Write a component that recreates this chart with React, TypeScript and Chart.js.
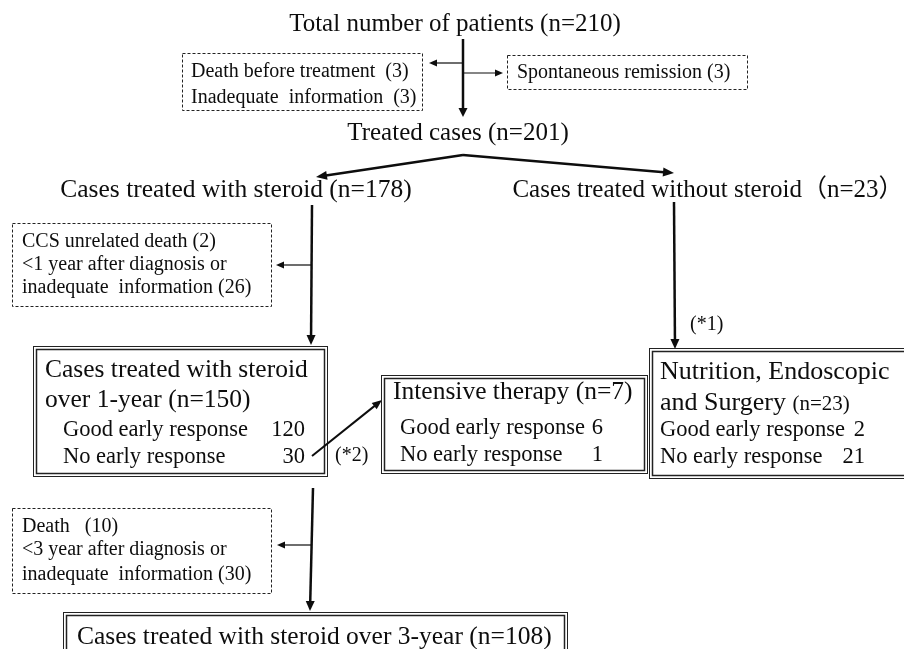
import React, { useEffect, useRef } from "react";
import { Chart, registerables } from "chart.js";

Chart.register(...registerables);

// ---------------- DATA ----------------
const totalPatients = 210;
const preTreatmentLabels = ["Death before treatment", "Inadequate  information"];
const preTreatmentCounts = [3, 3];
const spontaneousRemissionCount = 3;
const treatedCases = 201;
const steroidCases = 178;
const nonSteroidCases = 23;
const oneYearExclusionLabels = ["CCS unrelated death", "<1 year after diagnosis or", "inadequate  information"];
const oneYearExclusionCounts = [2, 26];
const steroidOneYear = 150;
const responseLabels = ["Good early response", "No early response"];
const steroidOneYearResponse = [120, 30];
const intensiveTherapy = 7;
const intensiveResponse = [6, 1];
const nutritionSurgery = 23;
const nutritionResponse = [2, 21];
const threeYearExclusionLabels = ["Death", "<3 year after diagnosis or", "inadequate  information"];
const threeYearExclusionCounts = [10, 30];
const steroidThreeYear = 108;

// ---------------- LAYOUT / STYLE ----------------
const W = 904;
const H = 649;
const SERIF = '"Liberation Serif", "Times New Roman", "Noto Sans CJK JP", serif';
const INK = "#0d0d0d";

const flowPlugin = {
  id: "flowchart",
  afterDraw(chart: any) {
    const ctx: CanvasRenderingContext2D = chart.ctx;
    const sx = chart.scales.x;
    const sy = chart.scales.y;
    const X = (v: number) => sx.getPixelForValue(v);
    const Y = (v: number) => sy.getPixelForValue(v);

    const text = (s: string, x: number, y: number, size: number, align: CanvasTextAlign = "left") => {
      ctx.save();
      ctx.font = `${size}px ${SERIF}`;
      ctx.fillStyle = INK;
      ctx.textAlign = align;
      ctx.textBaseline = "middle";
      ctx.fillText(s, X(x), Y(y));
      ctx.restore();
    };
    const runs = (parts: [string, number][], x: number, y: number) => {
      let cx = X(x);
      ctx.save();
      ctx.fillStyle = INK;
      ctx.textBaseline = "alphabetic";
      const base = Y(y) + parts[0][1] * 0.33;
      for (const [s, size] of parts) {
        ctx.font = `${size}px ${SERIF}`;
        ctx.fillText(s, cx, base);
        cx += ctx.measureText(s).width;
      }
      ctx.restore();
    };
    const line = (pts: number[][], width: number) => {
      ctx.save();
      ctx.strokeStyle = INK;
      ctx.lineWidth = width;
      ctx.lineCap = "butt";
      ctx.lineJoin = "miter";
      ctx.beginPath();
      pts.forEach((p, i) => (i ? ctx.lineTo(X(p[0]), Y(p[1])) : ctx.moveTo(X(p[0]), Y(p[1]))));
      ctx.stroke();
      ctx.restore();
    };
    const head = (from: number[], to: number[], len: number, half: number) => {
      const x1 = X(from[0]), y1 = Y(from[1]), x2 = X(to[0]), y2 = Y(to[1]);
      const a = Math.atan2(y2 - y1, x2 - x1);
      ctx.save();
      ctx.fillStyle = INK;
      ctx.beginPath();
      ctx.moveTo(x2, y2);
      ctx.lineTo(x2 - len * Math.cos(a) + half * Math.sin(a), y2 - len * Math.sin(a) - half * Math.cos(a));
      ctx.lineTo(x2 - len * Math.cos(a) - half * Math.sin(a), y2 - len * Math.sin(a) + half * Math.cos(a));
      ctx.closePath();
      ctx.fill();
      ctx.restore();
    };
    const arrow = (pts: number[][], width: number, len = 9, half = 4) => {
      const n = pts.length;
      const a = pts[n - 2], b = pts[n - 1];
      const d = Math.hypot(b[0] - a[0], b[1] - a[1]);
      const trimmed = pts.slice(0, n - 1).concat([[b[0] - ((b[0] - a[0]) * (len - 1)) / d, b[1] - ((b[1] - a[1]) * (len - 1)) / d]]);
      line(trimmed, width);
      head(a, b, len, half);
    };
    const dashedBox = (x1: number, y1: number, x2: number, y2: number) => {
      ctx.save();
      ctx.strokeStyle = "#222";
      ctx.lineWidth = 1;
      ctx.setLineDash([3, 2]);
      ctx.strokeRect(Math.round(X(x1)) + 0.5, Math.round(Y(y1)) + 0.5, X(x2) - X(x1), Y(y2) - Y(y1));
      ctx.restore();
    };
    const doubleBox = (x1: number, y1: number, x2: number, y2: number) => {
      ctx.save();
      ctx.strokeStyle = "#222";
      ctx.lineWidth = 1;
      ctx.strokeRect(Math.round(X(x1)) + 0.5, Math.round(Y(y1)) + 0.5, X(x2) - X(x1), Y(y2) - Y(y1));
      ctx.lineWidth = 1.5;
      ctx.strokeRect(X(x1) + 3.5, Y(y1) + 3.5, X(x2) - X(x1) - 6, Y(y2) - Y(y1) - 6);
      ctx.restore();
    };

    // Title & first split
    text(`Total number of patients (n=${totalPatients})`, 455, 24, 25, "center");
    arrow([[463, 39], [463, 117]], 2.5, 9, 4.5);
    arrow([[463, 63], [429, 63]], 1.2, 8, 3.5);
    arrow([[463, 73], [503, 73]], 1.2, 8, 3.5);
    dashedBox(182, 53, 422, 110);
    preTreatmentLabels.forEach((l, i) => text(`${l}  (${preTreatmentCounts[i]})`, 191, 72 + i * 26, 20));
    dashedBox(507, 55, 747, 89);
    text(`Spontaneous remission (${spontaneousRemissionCount})`, 517, 73, 20);

    text(`Treated cases (n=${treatedCases})`, 458, 133, 25, "center");
    arrow([[463, 155], [316, 177]], 2.5, 11, 4.5);
    arrow([[463, 155], [674, 173]], 2.5, 11, 4.5);

    text(`Cases treated with steroid (n=${steroidCases})`, 236, 190, 25.5, "center");
    text(`Cases treated without steroid（n=${nonSteroidCases}）`, 708, 190, 25, "center");

    // Steroid branch
    arrow([[312, 205], [311, 345]], 2.5, 10, 4.5);
    arrow([[312, 265], [276, 265]], 1.2, 8, 3.5);
    dashedBox(12, 223, 271, 306);
    text(`${oneYearExclusionLabels[0]} (${oneYearExclusionCounts[0]})`, 22, 242, 20);
    text(oneYearExclusionLabels[1], 22, 265, 20);
    text(`${oneYearExclusionLabels[2]} (${oneYearExclusionCounts[1]})`, 22, 288, 20);

    doubleBox(33, 346, 327, 476);
    text("Cases treated with steroid", 45, 370, 25.5);
    text(`over 1-year (n=${steroidOneYear})`, 45, 400, 25.5);
    responseLabels.forEach((l, i) => {
      text(l, 63, 430 + i * 27, 22.5);
      text(String(steroidOneYearResponse[i]), 305, 430 + i * 27, 22.5, "right");
    });

    arrow([[312, 456], [382, 400]], 2, 10, 4);
    text("(*2)", 335, 456, 20);

    doubleBox(381, 375, 647, 473);
    text(`Intensive therapy (n=${intensiveTherapy})`, 393, 392, 25.5);
    responseLabels.forEach((l, i) => {
      text(l, 400, 428 + i * 27, 22.5);
      text(String(intensiveResponse[i]), 603, 428 + i * 27, 22.5, "right");
    });

    // Non-steroid branch
    arrow([[674, 202], [675, 349]], 2.5, 10, 4.5);
    text("(*1)", 690, 325, 20);
    doubleBox(649, 348, 912, 478);
    text("Nutrition, Endoscopic", 660, 372, 26);
    runs([["and Surgery ", 26], [`(n=${nutritionSurgery})`, 21]], 660, 401);
    responseLabels.forEach((l, i) => {
      text(l, 660, 430 + i * 27, 22.5);
      text(String(nutritionResponse[i]), 865, 430 + i * 27, 22.5, "right");
    });

    // 3-year
    arrow([[313, 488], [310, 611]], 2.5, 10, 4.5);
    arrow([[311, 545], [277, 545]], 1.2, 8, 3.5);
    dashedBox(12, 508, 271, 593);
    text(`${threeYearExclusionLabels[0]}   (${threeYearExclusionCounts[0]})`, 22, 527, 20);
    text(threeYearExclusionLabels[1], 22, 550, 20);
    text(`${threeYearExclusionLabels[2]} (${threeYearExclusionCounts[1]})`, 22, 575, 20);

    doubleBox(63, 612, 567, 662);
    text(`Cases treated with steroid over 3-year (n=${steroidThreeYear})`, 77, 637, 25.5);
  },
};

export default function App() {
  const ref = useRef<HTMLCanvasElement | null>(null);
  useEffect(() => {
    document.body.style.margin = "0";
    document.body.style.background = "#ffffff";
    const canvas = ref.current;
    if (!canvas) return;
    const chart = new Chart(canvas, {
      type: "scatter",
      data: { datasets: [{ data: [], pointRadius: 0 }] },
      options: {
        animation: false,
        responsive: false,
        maintainAspectRatio: false,
        devicePixelRatio: 1,
        layout: { padding: 0 },
        events: [],
        plugins: { legend: { display: false }, tooltip: { enabled: false } },
        scales: {
          x: { type: "linear", min: 0, max: W, display: false },
          y: { type: "linear", min: 0, max: H, reverse: true, display: false },
        },
      },
      plugins: [
        {
          id: "bg",
          beforeDraw(c: any) {
            c.ctx.save();
            c.ctx.fillStyle = "#ffffff";
            c.ctx.fillRect(0, 0, c.width, c.height);
            c.ctx.restore();
          },
        },
        flowPlugin,
      ],
    });
    return () => chart.destroy();
  }, []);
  return (
    <div style={{ width: W, height: H, background: "#fff" }}>
      <canvas ref={ref} width={W} height={H} style={{ display: "block", width: W, height: H }} />
    </div>
  );
}
